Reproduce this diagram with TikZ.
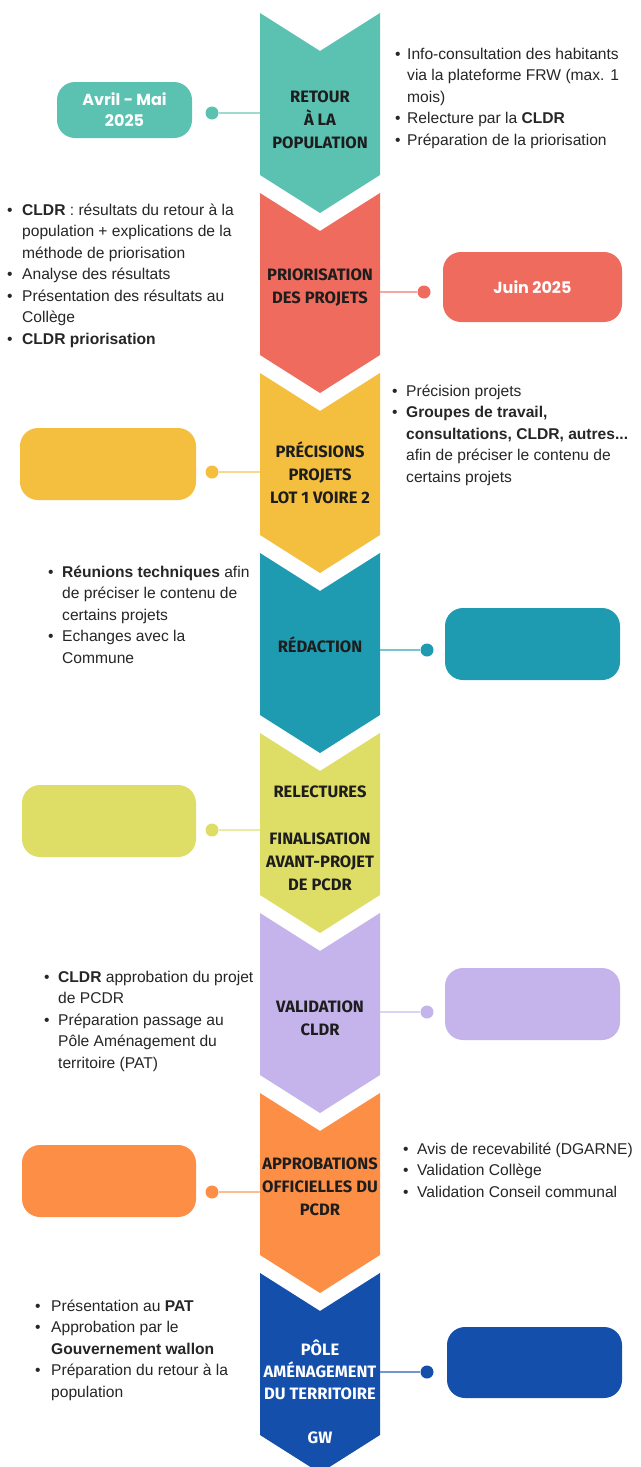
\documentclass[tikz,border=0pt]{standalone}
\usepackage{fontspec}
\setmainfont{Liberation Sans}
\newfontfamily\chevfont{Fira Sans}
\newfontfamily\datefont{Poppins}
\definecolor{cA}{HTML}{5BC2B2}
\definecolor{cB}{HTML}{EE6B5D}
\definecolor{cC}{HTML}{F4BF3F}
\definecolor{cD}{HTML}{1E9BB0}
\definecolor{cE}{HTML}{DEDE67}
\definecolor{cF}{HTML}{C5B4EB}
\definecolor{cG}{HTML}{FC8F45}
\definecolor{cH}{HTML}{1450AB}
\definecolor{txt}{HTML}{262626}
\definecolor{chevtxt}{HTML}{1D1D1D}
\newlength{\bw}
\newcommand{\bu}{\makebox[\bw][l]{\textbullet}}
\newcommand{\ind}{\hspace*{\bw}}
\newcommand{\blocktext}[2]{\setlength{\bw}{#1}\parbox[t]{260pt}{\raggedright\fontsize{15.6}{21.5}\selectfont #2}}
\tikzset{
  chev/.style={align=center, text=chevtxt, font=\chevfont\bfseries\fontsize{16.5}{23}\selectfont, inner sep=0pt},
  dot/.style={circle, minimum size=13pt, inner sep=0pt},
  datebox/.style={rectangle, rounded corners=18pt, inner sep=0pt, align=center, text=white, font=\datefont\bfseries\fontsize{16}{21}\selectfont},
  conn/.style={line width=1.3pt},
  blk/.style={anchor=base west, inner sep=0pt, text=txt}
}
\begin{document}
\begin{tikzpicture}[x=1pt,y=-1pt]
\useasboundingbox (0,0) rectangle (640,1467);
\fill[white] (0,0) rectangle (640,1467);
% chevrons
\foreach \t/\c in {13/cA,193/cB,373/cC,553/cD,733/cE,913/cF,1093/cG,1273/cH}{
  \fill[\c] (260,\t) -- (320,\t+38) -- (380,\t) -- (380,\t+162) -- (320,\t+200) -- (260,\t+162) -- cycle;
}
% chevron labels
\node[chev] (c1) at (320,120) {RETOUR\\À LA\\POPULATION};
\node[chev] (c2) at (320,288) {PRIORISATION\\DES PROJETS};
\node[chev] (c3) at (320,473) {PRÉCISIONS\\PROJETS\\LOT 1 VOIRE 2};
\node[chev] (c4) at (320,645) {RÉDACTION};
\node[chev] (c5) at (320,838) {RELECTURES\\[24pt]FINALISATION\\AVANT-PROJET\\DE PCDR};
\node[chev] (c6) at (320,1018) {VALIDATION\\CLDR};
\node[chev] (c7) at (320,1187) {APPROBATIONS\\OFFICIELLES DU\\PCDR};
\node[chev, text=white, font=\chevfont\bfseries\fontsize{16.5}{22}\selectfont] (c8) at (320,1392) {PÔLE\\AMÉNAGEMENT\\DU TERRITOIRE\\[22pt]GW};
% connector end points on chevron edges
\coordinate (e1) at (260,113);
\coordinate (e2) at (380,292);
\coordinate (e3) at (260,472);
\coordinate (e4) at (380,650);
\coordinate (e5) at (260,830);
\coordinate (e6) at (380,1012);
\coordinate (e7) at (260,1192);
\coordinate (e8) at (380,1372);
% dots
\node[dot, fill=cA] (d1) at (212,113) {};
\node[dot, fill=cB] (d2) at (424,292) {};
\node[dot, fill=cC] (d3) at (212,472) {};
\node[dot, fill=cD] (d4) at (427,650) {};
\node[dot, fill=cE] (d5) at (212,830) {};
\node[dot, fill=cF] (d6) at (427,1012) {};
\node[dot, fill=cG] (d7) at (212,1192) {};
\node[dot, fill=cH] (d8) at (427,1372) {};
% connectors
\draw[conn, cA!60] (e1) -- (d1);
\draw[conn, cB!60] (e2) -- (d2);
\draw[conn, cC!60] (e3) -- (d3);
\draw[conn, cD!60] (e4) -- (d4);
\draw[conn, cE!60] (e5) -- (d5);
\draw[conn, cF!60] (e6) -- (d6);
\draw[conn, cG!60] (e7) -- (d7);
\draw[conn, cH!60] (e8) -- (d8);
% date boxes
\node[datebox, fill=cA, minimum width=135pt, minimum height=56pt] (b1) at (124.5,110) {Avril - Mai\\2025};
\node[datebox, fill=cB, minimum width=179pt, minimum height=70pt] (b2) at (532.5,287) {Juin 2025};
\node[datebox, fill=cC, minimum width=176pt, minimum height=72pt] (b3) at (108,464) {};
\node[datebox, fill=cD, minimum width=175pt, minimum height=72pt] (b4) at (532.5,644) {};
\node[datebox, fill=cE, minimum width=174pt, minimum height=72pt] (b5) at (109,821) {};
\node[datebox, fill=cF, minimum width=175pt, minimum height=72pt] (b6) at (532.5,1004) {};
\node[datebox, fill=cG, minimum width=174pt, minimum height=72pt] (b7) at (109,1181) {};
\node[datebox, fill=cH, minimum width=175pt, minimum height=71pt] (b8) at (534.5,1362.5) {};
% text blocks
\node[blk] (t1) at (395,59) {\blocktext{12pt}{%
\bu Info-consultation des habitants\\
\ind via la plateforme FRW (max. 1\\
\ind mois)\\
\bu Relecture par la \textbf{CLDR}\\
\bu Préparation de la priorisation}};
\node[blk] (t2) at (7,215) {\blocktext{15pt}{%
\bu \textbf{CLDR}~: résultats du retour à la\\
\ind population + explications de la\\
\ind méthode de priorisation\\
\bu Analyse des résultats\\
\bu Présentation des résultats au\\
\ind Collège\\
\bu \textbf{CLDR priorisation}}};
\node[blk] (t3) at (392,396) {\blocktext{14pt}{%
\bu Précision projets\\
\bu \textbf{Groupes de travail,}\\
\ind \textbf{consultations, CLDR, autres...}\\
\ind afin de préciser le contenu de\\
\ind certains projets}};
\node[blk] (t4) at (48,577) {\blocktext{14pt}{%
\bu \textbf{Réunions techniques} afin\\
\ind de préciser le contenu de\\
\ind certains projets\\
\bu Echanges avec la\\
\ind Commune}};
\node[blk] (t6) at (44,982) {\blocktext{14pt}{%
\bu \textbf{CLDR} approbation du projet\\
\ind de PCDR\\
\bu Préparation passage au\\
\ind Pôle Aménagement du\\
\ind territoire (PAT)}};
\node[blk] (t7) at (403,1154) {\blocktext{14pt}{%
\bu Avis de recevabilité (DGARNE)\\
\bu Validation Collège\\
\bu Validation Conseil communal}};
\node[blk] (t8) at (35,1311) {\blocktext{16pt}{%
\bu Présentation au \textbf{PAT}\\
\bu Approbation par le\\
\ind \textbf{Gouvernement wallon}\\
\bu Préparation du retour à la\\
\ind population}};
\end{tikzpicture}
\end{document}
